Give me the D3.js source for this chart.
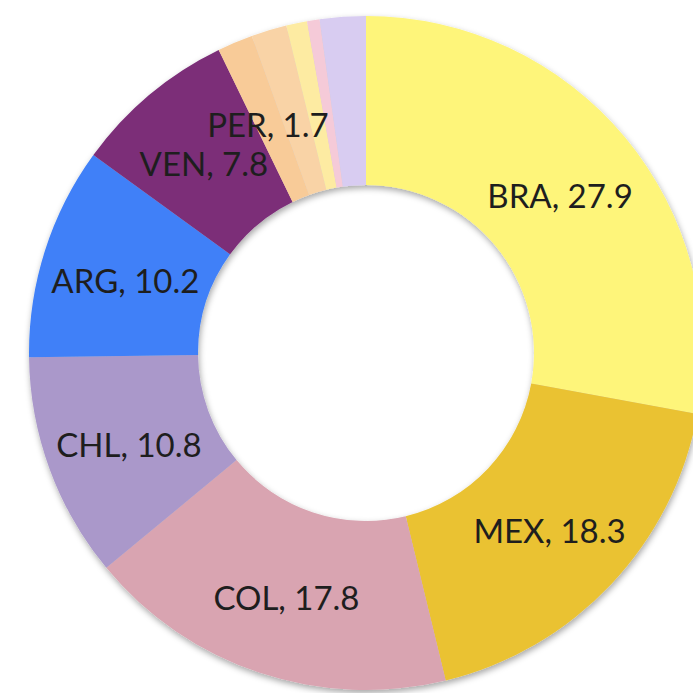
<!DOCTYPE html>
<html>
<head>
<meta charset="utf-8">
<script src="https://cdn.jsdelivr.net/npm/d3@7"></script>
<style>
  html, body { margin: 0; padding: 0; background: #fff; }
  #chart { width: 693px; height: 693px; overflow: hidden; }
</style>
</head>
<body>
<div id="chart"></div>
<script>
// country share values (percent), read clockwise from 12 o'clock
var countries = ['BRA', 'MEX', 'COL', 'CHL', 'ARG', 'VEN', 'PER', 'ECU', 'URY', 'BOL', 'OTH']
var shares = [27.9, 18.3, 17.8, 10.8, 10.2, 7.8, 1.7, 1.7, 1.0, 0.6, 2.2]
// only these slices carry a label in the original
var labelled = ['BRA', 'MEX', 'COL', 'CHL', 'ARG', 'VEN', 'PER']
var colors = ['#fef57a', '#eac232', '#d9a4b1', '#aa98ca', '#4080f8', '#7b2d78',
  '#f8cb98', '#f9d3a6', '#fdeba2', '#f5cad8', '#d8ccf1']

var width = 693
var height = 693
var cx = 366
var cy = 353
var outerR = 337
var innerR = 168

var svg = d3.select('#chart')
  .append('svg')
  .attr('width', width)
  .attr('height', height)

// soft shadow like the office chart
var defs = svg.append('defs')
var filter = defs.append('filter')
  .attr('id', 'shadow')
  .attr('x', '-10%').attr('y', '-10%')
  .attr('width', '120%').attr('height', '120%')
filter.append('feDropShadow')
  .attr('dx', 1).attr('dy', 3)
  .attr('stdDeviation', 3)
  .attr('flood-color', '#000')
  .attr('flood-opacity', 0.35)

var g = svg.append('g')
  .attr('transform', 'translate(' + cx + ',' + cy + ')')

var data = countries.map(function (c, i) {
  return { name: c, value: shares[i], color: colors[i] }
})

var pie = d3.pie()
  .value(function (d) { return d.value })
  .sort(null)

var arc = d3.arc()
  .innerRadius(innerR)
  .outerRadius(outerR)

var labelArc = d3.arc()
  .innerRadius((innerR + outerR) / 2)
  .outerRadius((innerR + outerR) / 2)

var arcs = pie(data)

g.append('g')
  .attr('filter', 'url(#shadow)')
  .selectAll('path')
  .data(arcs)
  .enter()
  .append('path')
  .attr('d', arc)
  .attr('fill', function (d) { return d.data.color })

g.append('g')
  .selectAll('text')
  .data(arcs.filter(function (d) { return labelled.indexOf(d.data.name) >= 0 }))
  .enter()
  .append('text')
  .attr('transform', function (d) {
    var p = labelArc.centroid(d)
    return 'translate(' + p[0] + ',' + (p[1] + 5) + ')'
  })
  .attr('text-anchor', 'middle')
  .attr('dy', '0.36em')
  .style('font-family', 'Lato, "Open Sans", sans-serif')
  .style('font-size', '33px')
  .style('fill', '#1e1e1e')
  .text(function (d) { return d.data.name + ', ' + d.data.value })
</script>
</body>
</html>
